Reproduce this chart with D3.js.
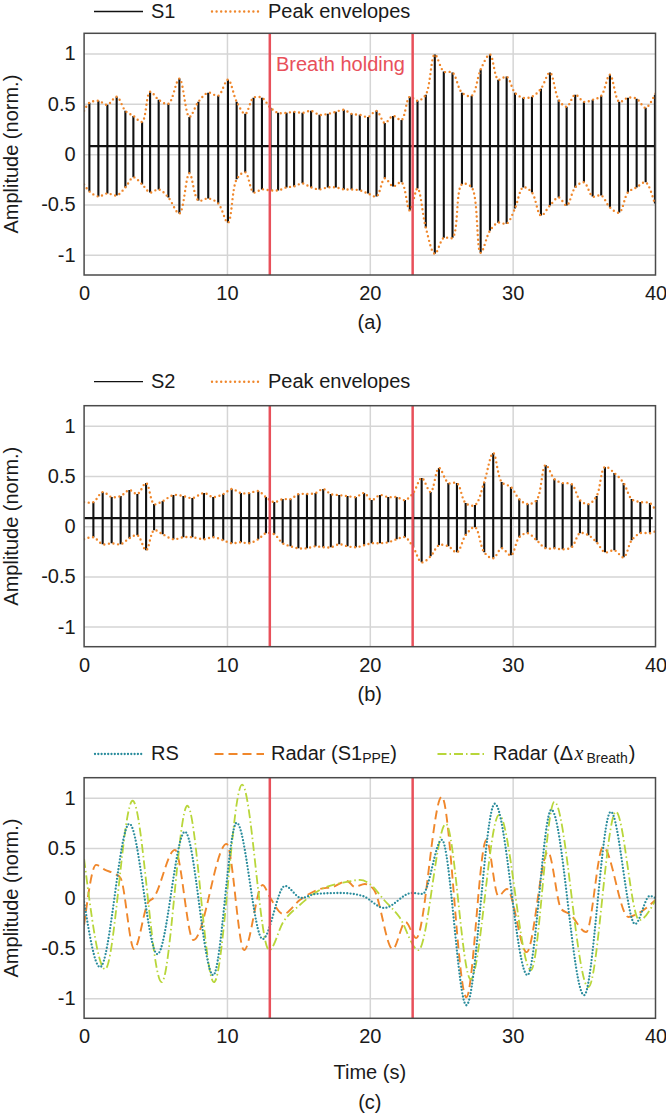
<!DOCTYPE html>
<html><head><meta charset="utf-8">
<script src="https://cdn.jsdelivr.net/npm/d3@7"></script>
<style>body{margin:0;background:#fff}svg{display:block}</style>
</head><body>
<svg id="chart" width="666" height="1114"></svg>
<script>
// ---------- shared axes ----------
const xTicks = [0, 10, 20, 30, 40];
const yTicks = [-1, -0.5, 0, 0.5, 1];
const yTickLabels = ["-1", "-0.5", "0", "0.5", "1"];
const breathHold = [13, 23];

// ---------- panel (a): S1 beats ----------
const s1Baseline = 0.08;
const s1Time = [0.37,1.0,1.63,2.28,2.89,3.45,4.06,4.62,5.22,5.9,6.67,7.37,8.0,8.69,9.39,10.07,10.68,11.28,11.86,12.45,13.05,
  13.58,14.17,14.7,15.29,15.89,16.48,17.06,17.62,18.18,18.72,19.3,19.88,20.47,21.05,21.63,22.22,22.8,
  23.34,23.92,24.55,25.18,25.79,
  26.45,27.13,27.76,28.41,28.99,29.58,30.16,30.74,31.35,31.98,32.61,33.22,33.78,34.38,34.99,35.6,36.2,36.81,37.46,38.07,38.68,39.31,39.96];
const s1Upper = [0.51,0.53,0.49,0.57,0.43,0.38,0.32,0.62,0.54,0.50,0.75,0.37,0.52,0.61,0.58,0.74,0.52,0.40,0.56,0.56,0.46,
  0.41,0.41,0.42,0.41,0.43,0.39,0.40,0.42,0.44,0.40,0.39,0.37,0.43,0.31,0.38,0.34,0.57,
  0.53,0.59,0.99,0.82,0.81,
  0.61,0.58,0.84,0.99,0.74,0.77,0.61,0.56,0.57,0.65,0.81,0.54,0.47,0.59,0.52,0.54,0.58,0.79,0.52,0.56,0.55,0.46,0.59];
const s1Lower = [-0.37,-0.42,-0.39,-0.41,-0.33,-0.23,-0.30,-0.38,-0.35,-0.43,-0.59,-0.19,-0.46,-0.44,-0.49,-0.68,-0.25,-0.18,-0.38,-0.35,-0.36,
  -0.36,-0.33,-0.32,-0.29,-0.33,-0.35,-0.33,-0.33,-0.35,-0.35,-0.36,-0.39,-0.42,-0.24,-0.32,-0.28,-0.56,
  -0.34,-0.73,-0.99,-0.83,-0.83,
  -0.30,-0.33,-0.98,-0.76,-0.68,-0.69,-0.54,-0.33,-0.38,-0.61,-0.51,-0.43,-0.51,-0.33,-0.28,-0.42,-0.41,-0.53,-0.58,-0.38,-0.33,-0.28,-0.49];
const s1EnvStart = [0.43, -0.30];   // envelope values at t = 0 (upper, lower)
const s1EnvEnd = [0.60, -0.50];     // envelope values at t = 40
const s1SignalSpan = [0.3, 40];

// ---------- panel (b): S2 beats ----------
const s2Baseline = 0.08;
const s2Time = [0.65,1.3,1.93,2.56,3.17,3.73,4.34,4.9,5.5,6.25,6.95,7.58,8.39,9.04,9.74,10.33,10.98,11.56,12.19,12.73,13.31,
  13.9,14.45,15.0,15.6,16.2,16.74,17.27,17.86,18.44,19.02,19.6,
  20.13,20.71,21.29,21.88,22.46,23.04,
  23.63,24.26,24.84,25.5,26.1,26.71,27.36,28.01,28.64,29.23,29.88,30.46,31.05,31.68,32.31,32.92,33.5,34.13,34.71,35.3,35.88,36.46,37.12,37.77,38.33,38.94,39.61];
const s2Upper = [0.24,0.34,0.29,0.30,0.36,0.32,0.43,0.22,0.25,0.31,0.30,0.28,0.33,0.29,0.32,0.37,0.33,0.33,0.35,0.29,0.24,
  0.27,0.27,0.32,0.32,0.33,0.37,0.32,0.31,0.30,0.29,0.33,
  0.26,0.31,0.29,0.29,0.26,0.33,
  0.48,0.34,0.58,0.43,0.43,0.23,0.21,0.44,0.73,0.44,0.39,0.27,0.22,0.26,0.61,0.47,0.43,0.42,0.26,0.22,0.30,0.59,0.53,0.43,0.27,0.24,0.23];
const s2Lower = [-0.11,-0.18,-0.17,-0.18,-0.12,-0.09,-0.24,-0.04,-0.08,-0.13,-0.11,-0.11,-0.13,-0.11,-0.14,-0.17,-0.16,-0.17,-0.13,-0.07,-0.08,
  -0.17,-0.20,-0.22,-0.22,-0.20,-0.21,-0.21,-0.18,-0.20,-0.21,-0.19,
  -0.17,-0.17,-0.16,-0.13,-0.11,-0.21,
  -0.36,-0.30,-0.19,-0.20,-0.26,-0.09,-0.01,-0.26,-0.32,-0.22,-0.29,-0.11,-0.07,-0.14,-0.22,-0.22,-0.23,-0.21,-0.07,-0.09,-0.16,-0.26,-0.24,-0.31,-0.14,-0.07,-0.07];
const s2EnvStart = [0.24, -0.13];
const s2EnvEnd = [0.16, -0.05];
const s2SignalSpan = [0, 39.8];

// ---------- panel (c): respiration curves ----------
const rsTime = [0,1.12,3.17,5.13,7.06,9.04,10.68,12.5,14.06,15.2,16.2,18.0,19.5,21.0,22.95,23.7,25.04,26.76,28.75,31.04,32.71,35.0,36.87,38.57,39.6,40];
const rsValue = [-0.04,-0.69,0.74,-0.56,0.66,-0.77,0.75,-0.41,0.12,0.0,0.04,0.05,0.02,-0.10,0.05,0.04,0.58,-1.07,0.94,-0.77,0.88,-0.97,0.86,-0.26,0.02,0.0];
const ppeTime = [0,0.84,1.47,2.17,2.55,3.5,4.5,4.85,6.36,7.65,9.98,11.2,12.5,13.0,13.94,15.1,16.5,17.4,18.4,18.95,19.65,20.3,21.6,22.5,23.25,25.04,26.76,28.16,29.0,29.6,30.98,32.47,33.4,34.0,35.15,36.33,38.1,38.7,40];
const ppeValue = [-0.27,0.33,0.28,0.24,0.20,-0.51,-0.04,0.0,0.48,-0.42,0.54,-0.52,0.13,0.01,-0.16,-0.02,0.09,0.11,0.17,0.11,0.14,0.08,-0.51,-0.24,-0.40,1.01,-0.99,0.58,0.02,0.09,-0.54,0.46,-0.11,-0.16,-0.34,0.51,-0.19,-0.16,-0.02];
const brTime = [0,1.47,3.4,5.43,7.23,9.09,11.06,12.96,13.94,15.1,16.5,18.4,19.3,20.0,21.0,22.07,23.4,25.33,27.06,29.05,31.28,32.92,35.3,37.23,38.86,40];
const brValue = [0.39,-0.71,0.97,-0.84,0.92,-0.84,1.13,-0.52,-0.24,-0.07,0.08,0.16,0.18,0.14,-0.02,-0.19,-0.52,0.74,-0.81,0.83,-0.72,0.96,-0.89,0.86,-0.22,-0.02];

// ---------- drawing ----------
const FONT = '"Liberation Sans", Arial, Helvetica, sans-serif';
const TXT = "#1a1a1a";
const C_RED = "#e8505a", C_ORANGE = "#f0872b", C_TEAL = "#2a8c9c", C_GREEN = "#b8d63a";
const svg = d3.select("#chart").style("font-family", FONT);
const x = d3.scaleLinear().domain([0, 40]).range([84.1, 655.5]);

function panel(top, bottom, idx) {
  const y = d3.scaleLinear().domain([-1.2, 1.2]).range([bottom, top]);
  const g = svg.append("g");
  const cid = "clip" + idx;
  svg.append("clipPath").attr("id", cid).append("rect")
    .attr("x", x(0)).attr("y", top).attr("width", x(40) - x(0)).attr("height", bottom - top);
  // grid
  g.append("g").attr("transform", `translate(0,${bottom})`)
    .call(d3.axisBottom(x).tickValues([10, 20, 30]).tickSize(-(bottom - top)).tickFormat(""))
    .call(a => { a.select(".domain").remove(); a.selectAll("line").attr("stroke", "#d5d5d5").attr("stroke-width", 1.5); });
  g.append("g").attr("transform", `translate(${x(0)},0)`)
    .call(d3.axisLeft(y).tickValues(yTicks).tickSize(-(x(40) - x(0))).tickFormat(""))
    .call(a => { a.select(".domain").remove(); a.selectAll("line").attr("stroke", "#d5d5d5").attr("stroke-width", 1.5); });
  // tick labels
  g.append("g").attr("transform", `translate(0,${bottom})`)
    .call(d3.axisBottom(x).tickValues(xTicks).tickSize(0).tickPadding(11))
    .call(a => { a.select(".domain").remove(); a.attr("font-family", FONT).attr("font-size", 20);
      a.selectAll("text").attr("fill", TXT); });
  g.append("g").attr("transform", `translate(${x(0)},0)`)
    .call(d3.axisLeft(y).tickValues(yTicks).tickSize(0).tickPadding(8.5).tickFormat((d, i) => yTickLabels[i]))
    .call(a => { a.select(".domain").remove(); a.attr("font-family", FONT).attr("font-size", 20);
      a.selectAll("text").attr("fill", TXT); });
  // y label
  g.append("text").attr("transform", `translate(18,${(top + bottom) / 2}) rotate(-90)`)
    .attr("text-anchor", "middle").attr("font-size", 20).attr("fill", TXT).text("Amplitude (norm.)");
  const data = g.append("g").attr("clip-path", `url(#${cid})`);
  return { g, y, data, top, bottom };
}

function finishPanel(p) {
  p.g.selectAll(".bh").data(breathHold).enter().append("line")
    .attr("x1", d => x(d)).attr("x2", d => x(d)).attr("y1", p.top).attr("y2", p.bottom)
    .attr("stroke", C_RED).attr("stroke-width", 2.5);
  p.g.append("rect").attr("x", x(0)).attr("y", p.top).attr("width", x(40) - x(0)).attr("height", p.bottom - p.top)
    .attr("fill", "none").attr("stroke", "#4a4a4a").attr("stroke-width", 1.5);
}

function heartPanel(p, times, up, lo, base, span, envStart, envEnd) {
  const pts = [[span[0], base]];
  times.forEach((t, i) => { pts.push([t, base], [t, up[i]], [t, lo[i]], [t, base]); });
  pts.push([span[1], base]);
  const lin = d3.line().x(d => x(d[0])).y(d => p.y(d[1]));
  p.data.append("path").attr("d", lin(pts)).attr("fill", "none").attr("stroke", "#111")
    .attr("stroke-width", 2.1).attr("stroke-linejoin", "miter");
  const env = d3.line().x(d => x(d[0])).y(d => p.y(d[1])).curve(d3.curveCatmullRom.alpha(0.5));
  const upPts = [[0, envStart[0]], ...times.map((t, i) => [t, up[i]]), [40, envEnd[0]]];
  const loPts = [[0, envStart[1]], ...times.map((t, i) => [t, lo[i]]), [40, envEnd[1]]];
  [upPts, loPts].forEach(ps => p.data.append("path").attr("d", env(ps)).attr("fill", "none")
    .attr("stroke", C_ORANGE).attr("stroke-width", 2.4).attr("stroke-linecap", "round")
    .attr("stroke-dasharray", "0,4.6"));
}

function legendLine(x1, x2, yy, stroke, w, dash, cap) {
  svg.append("line").attr("x1", x1).attr("x2", x2).attr("y1", yy).attr("y2", yy)
    .attr("stroke", stroke).attr("stroke-width", w).attr("stroke-dasharray", dash || null)
    .attr("stroke-linecap", cap || "butt");
}
function label(tx, ty, str, anchor) {
  return svg.append("text").attr("x", tx).attr("y", ty).attr("font-size", 20).attr("fill", TXT)
    .attr("text-anchor", anchor || "start").text(str);
}

// ----- Panel (a)
const pa = panel(33.3, 275, 0);
heartPanel(pa, s1Time, s1Upper, s1Lower, s1Baseline, s1SignalSpan, s1EnvStart, s1EnvEnd);
finishPanel(pa);
pa.g.append("text").attr("x", 276).attr("y", 70.5).attr("font-size", 20).attr("fill", C_RED).text("Breath holding");
legendLine(94, 143, 11.5, "#111", 1.3);
label(151, 18.3, "S1");
legendLine(212, 260, 11.5, C_ORANGE, 2.4, "0,4.6", "round");
label(268, 18.3, "Peak envelopes");
label(x(20), 329, "(a)", "middle");

// ----- Panel (b)
const pb = panel(405.7, 646.7, 1);
heartPanel(pb, s2Time, s2Upper, s2Lower, s2Baseline, s2SignalSpan, s2EnvStart, s2EnvEnd);
finishPanel(pb);
legendLine(94, 143, 381.7, "#111", 1.3);
label(151, 387.5, "S2");
legendLine(212, 260, 381.7, C_ORANGE, 2.4, "0,4.6", "round");
label(268, 387.5, "Peak envelopes");
label(x(20), 701, "(b)", "middle");

// ----- Panel (c)
const pc = panel(777.7, 1018.3, 2);
const curve = d3.line().x(d => x(d[0])).y(d => pc.y(d[1])).curve(d3.curveMonotoneX);
pc.data.append("path").attr("d", curve(ppeTime.map((t, i) => [t, ppeValue[i]])))
  .attr("fill", "none").attr("stroke", C_ORANGE).attr("stroke-width", 1.9).attr("stroke-dasharray", "9,5");
pc.data.append("path").attr("d", curve(brTime.map((t, i) => [t, brValue[i]])))
  .attr("fill", "none").attr("stroke", C_GREEN).attr("stroke-width", 1.8).attr("stroke-dasharray", "9,3,1.5,3");
pc.data.append("path").attr("d", curve(rsTime.map((t, i) => [t, rsValue[i]])))
  .attr("fill", "none").attr("stroke", C_TEAL).attr("stroke-width", 2.3).attr("stroke-linecap", "round")
  .attr("stroke-dasharray", "0,3.3");
finishPanel(pc);
legendLine(95, 143, 754, C_TEAL, 2.3, "0,3.3", "round");
label(151, 760, "RS");
legendLine(214.5, 264, 754, C_ORANGE, 1.9, "9,5");
const t2 = label(271, 760, "Radar (S1");
t2.append("tspan").attr("font-size", 14).attr("dy", 2.5).text("PPE");
t2.append("tspan").attr("dy", -2.5).text(")");
legendLine(437.5, 484, 754, C_GREEN, 1.8, "9,3,1.5,3");
const t3 = label(493, 760, "Radar (");
t3.append("tspan").text("\u0394");
t3.append("tspan").attr("font-family", '"Liberation Serif", "DejaVu Serif", serif').attr("font-style", "italic").attr("dx", 1.5).text("x");
t3.append("tspan").attr("font-size", 14).attr("dy", 2.5).attr("dx", 3).text("Breath");
t3.append("tspan").attr("dy", -2.5).attr("dx", 1).text(")");
label(x(20), 1079, "Time (s)", "middle");
label(x(20), 1109, "(c)", "middle");
</script>
</body></html>
